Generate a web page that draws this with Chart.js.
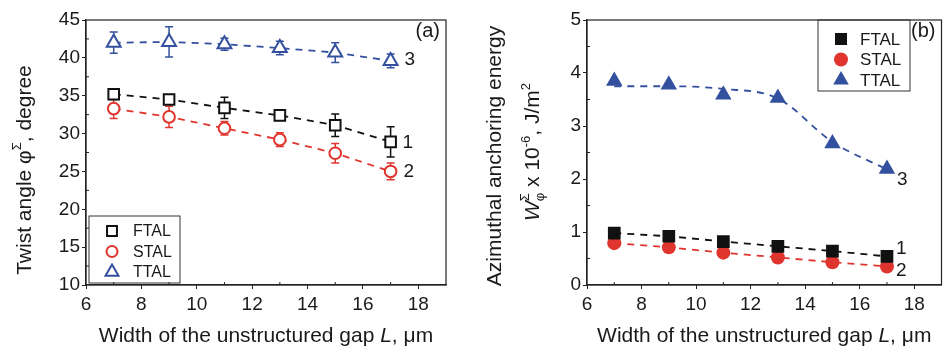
<!DOCTYPE html>
<html>
<head>
<meta charset="utf-8">
<script src="https://cdn.jsdelivr.net/npm/chart.js@4/dist/chart.umd.min.js"></script>
<style>
  html, body { margin: 0; padding: 0; background: #fff; }
  #wrap { position: relative; width: 951px; height: 349px; }
  #chartA { position: absolute; left: 0; top: 0; }
  #chartB { position: absolute; left: 475px; top: 0; }
</style>
</head>
<body>
<div id="wrap">
  <canvas id="chartA" width="475" height="349"></canvas>
  <canvas id="chartB" width="476" height="349"></canvas>
</div>
<script>
// gap width L, um
const gapWidth = [7, 9, 11, 13, 15, 17];
const xTicks = [6, 8, 10, 12, 14, 16, 18];
const xMinor = [7, 9, 11, 13, 15, 17];

// (a) twist angle, degree
const twistFTAL = [35.2, 34.5, 33.4, 32.4, 31.1, 28.9];
const twistFTALErr = [0.7, 0.6, 1.4, 0.6, 1.5, 2.0];
const twistSTAL = [33.3, 32.2, 30.7, 29.2, 27.4, 25.0];
const twistSTALErr = [1.3, 1.4, 0.9, 0.9, 1.3, 1.1];
const twistTTAL = [42.0, 42.1, 41.8, 41.3, 40.7, 39.6];
const twistTTALErr = [1.4, 2.0, 0.8, 0.9, 1.3, 0.9];
const yTicksA = [10, 15, 20, 25, 30, 35, 40, 45];
const yMinorA = [12.5, 17.5, 22.5, 27.5, 32.5, 37.5, 42.5];

// (b) azimuthal anchoring energy, 1e-6 J/m^2
const energyFTAL = [0.98, 0.92, 0.82, 0.73, 0.64, 0.54];
const energySTAL = [0.79, 0.71, 0.61, 0.52, 0.43, 0.35];
const energyTTAL = [3.85, 3.78, 3.59, 3.53, 2.67, 2.19];
const energyTTALFit = [3.75, 3.75, 3.70, 3.52, 2.70, 2.18];
const yTicksB = [0, 1, 2, 3, 4, 5];
const yMinorB = [0.5, 1.5, 2.5, 3.5, 4.5];

const seriesNames = ["FTAL", "STAL", "TTAL"];
const BLACK = "#111111";
const RED = "#e0352f";
const BLUE = "#33509e";
const TEXT = "#1a1a1a";
const FONT = "'Liberation Sans', Arial, Helvetica, sans-serif";

const toPoints = (ys) => gapWidth.map((x, i) => ({ x: x, y: ys[i] }));

function drawMarker(ctx, style, x, y, r, stroke, fill, lw) {
  ctx.save();
  ctx.beginPath();
  if (style === "rect") {
    const s = r * Math.SQRT1_2;
    ctx.rect(x - s, y - s, 2 * s, 2 * s);
  } else if (style === "triangle") {
    let a = 0;
    ctx.moveTo(x + Math.sin(a) * r, y - Math.cos(a) * r);
    a += (2 * Math.PI) / 3;
    ctx.lineTo(x + Math.sin(a) * r, y - Math.cos(a) * r);
    a += (2 * Math.PI) / 3;
    ctx.lineTo(x + Math.sin(a) * r, y - Math.cos(a) * r);
    ctx.closePath();
  } else {
    ctx.arc(x, y, r, 0, Math.PI * 2);
  }
  ctx.fillStyle = fill;
  ctx.fill();
  if (lw > 0) {
    ctx.lineWidth = lw;
    ctx.strokeStyle = stroke;
    ctx.stroke();
  }
  ctx.restore();
}

// draws a run of text pieces (for super/subscripts) centred on cx
function drawRuns(ctx, runs, cx, cy, angle) {
  ctx.save();
  ctx.translate(cx, cy);
  ctx.rotate(angle);
  ctx.textBaseline = "alphabetic";
  ctx.textAlign = "left";
  ctx.fillStyle = TEXT;
  let total = 0;
  runs.forEach((r) => {
    ctx.font = r.font;
    r.w = ctx.measureText(r.t).width;
    if (!r.stack) total += r.w;
  });
  let x = -total / 2;
  runs.forEach((r) => {
    ctx.font = r.font;
    ctx.fillText(r.t, x, r.dy || 0);
    if (!r.stack) x += r.w;
  });
  ctx.restore();
}

function makeDecor(cfg) {
  return {
    id: "decor",
    beforeDatasetsDraw(chart) {
      if (!cfg.errors) return;
      const { ctx, scales } = chart;
      ctx.save();
      cfg.errors.forEach((err, k) => {
        const vals = cfg.errorValues[k];
        ctx.strokeStyle = cfg.errorColors[k];
        ctx.lineWidth = 1.5;
        gapWidth.forEach((gx, i) => {
          const px = scales.x.getPixelForValue(gx);
          const top = scales.y.getPixelForValue(vals[i] + err[i]);
          const bot = scales.y.getPixelForValue(vals[i] - err[i]);
          ctx.beginPath();
          ctx.moveTo(px, top);
          ctx.lineTo(px, bot);
          ctx.moveTo(px - 4, top);
          ctx.lineTo(px + 4, top);
          ctx.moveTo(px - 4, bot);
          ctx.lineTo(px + 4, bot);
          ctx.stroke();
        });
      });
      ctx.restore();
    },
    afterDraw(chart) {
      const { ctx, chartArea: a, scales } = chart;
      ctx.save();
      // frame
      ctx.strokeStyle = "#222";
      ctx.lineWidth = 1.2;
      ctx.strokeRect(a.left, a.top, a.right - a.left, a.bottom - a.top);
      // minor ticks, inward
      ctx.lineWidth = 1;
      ctx.beginPath();
      xMinor.forEach((v) => {
        const px = scales.x.getPixelForValue(v);
        ctx.moveTo(px, a.bottom);
        ctx.lineTo(px, a.bottom - 3);
      });
      cfg.yMinor.forEach((v) => {
        const py = scales.y.getPixelForValue(v);
        ctx.moveTo(a.left, py);
        ctx.lineTo(a.left + 3, py);
      });
      ctx.stroke();

      // legend
      const lg = cfg.legend;
      ctx.strokeStyle = "#333";
      ctx.lineWidth = 1;
      ctx.strokeRect(lg.x, lg.y, lg.w, lg.h);
      ctx.font = lg.size + "px " + FONT;
      ctx.textBaseline = "middle";
      ctx.textAlign = "left";
      seriesNames.forEach((name, i) => {
        const m = cfg.markers[i];
        const my = lg.y + lg.first + i * lg.step;
        drawMarker(ctx, m.style, lg.x + lg.mx, my, m.lr, m.color, m.fill, m.lw);
        ctx.fillStyle = TEXT;
        ctx.fillText(name, lg.x + lg.tx, my + 1);
      });

      // curve numbers next to last points
      ctx.font = "19px " + FONT;
      cfg.curveLabels.forEach((c) => {
        const px = scales.x.getPixelForValue(c.x) + c.dx;
        const py = scales.y.getPixelForValue(c.y) + c.dy;
        ctx.fillStyle = TEXT;
        ctx.fillText(c.t, px, py);
      });

      // panel letter
      ctx.font = "20px " + FONT;
      ctx.textAlign = "right";
      ctx.fillText(cfg.panel, a.right - 6, a.top + 11);

      // axis titles
      const reg = "21px " + FONT;
      const ital = "italic 21px " + FONT;
      const small = "13px " + FONT;
      drawRuns(ctx, [
        { t: "Width of the unstructured gap ", font: reg },
        { t: "L", font: ital },
        { t: ", \u03bcm", font: reg }
      ], (a.left + a.right) / 2, 342, 0);
      cfg.yTitles.forEach((line) => {
        drawRuns(ctx, line.runs(reg, ital, small), line.x, line.y, -Math.PI / 2);
      });
      ctx.restore();
    }
  };
}

function axisOptions(ticks, min, max, widthY) {
  return {
    x: {
      type: "linear",
      min: 6,
      max: 19,
      afterBuildTicks: (s) => { s.ticks = xTicks.map((v) => ({ value: v })); },
      afterFit: (s) => { s.height = 64; },
      grid: { drawOnChartArea: false, drawTicks: true, tickLength: 4, color: "#222" },
      border: { color: "#222", width: 1.2 },
      ticks: { font: { family: FONT, size: 19 }, color: TEXT, padding: 4, maxRotation: 0 }
    },
    y: {
      type: "linear",
      min: min,
      max: max,
      afterBuildTicks: (s) => { s.ticks = ticks.map((v) => ({ value: v })); },
      afterFit: (s) => { s.width = widthY; },
      grid: { drawOnChartArea: false, drawTicks: true, tickLength: 4, color: "#222" },
      border: { color: "#222", width: 1.2 },
      ticks: { font: { family: FONT, size: 19 }, color: TEXT, padding: 2 }
    }
  };
}

const lineBase = { showLine: true, borderDash: [7, 6], borderWidth: 1.8, tension: 0 };

// ---------- panel (a) ----------
new Chart(document.getElementById("chartA"), {
  type: "scatter",
  data: {
    datasets: [
      Object.assign({}, lineBase, {
        label: "FTAL", data: toPoints(twistFTAL), borderColor: BLACK,
        pointStyle: "rect", pointRadius: 7.5, pointBorderWidth: 2,
        pointBorderColor: BLACK, pointBackgroundColor: "#fff"
      }),
      Object.assign({}, lineBase, {
        label: "STAL", data: toPoints(twistSTAL), borderColor: RED,
        pointStyle: "circle", pointRadius: 5.8, pointBorderWidth: 2,
        pointBorderColor: RED, pointBackgroundColor: "#fff"
      }),
      Object.assign({}, lineBase, {
        label: "TTAL", data: toPoints(twistTTAL), borderColor: BLUE,
        pointStyle: "triangle", pointRadius: 8, pointBorderWidth: 2,
        pointBorderColor: BLUE, pointBackgroundColor: "#fff"
      })
    ]
  },
  options: {
    responsive: false,
    animation: false,
    layout: { padding: { left: 0, top: 20, right: 29, bottom: 0 } },
    plugins: { legend: { display: false }, tooltip: { enabled: false } },
    scales: axisOptions(yTicksA, 10, 45, 86)
  },
  plugins: [makeDecor({
    panel: "(a)",
    yMinor: yMinorA,
    errors: [twistFTALErr, twistSTALErr, twistTTALErr],
    errorValues: [twistFTAL, twistSTAL, twistTTAL],
    errorColors: [BLACK, RED, BLUE],
    markers: [
      { style: "rect", lr: 7, color: BLACK, fill: "#fff", lw: 2 },
      { style: "circle", lr: 5.5, color: RED, fill: "#fff", lw: 2 },
      { style: "triangle", lr: 7.5, color: BLUE, fill: "#fff", lw: 2 }
    ],
    legend: { x: 89, y: 216, w: 91, h: 67, first: 15, step: 20.5, mx: 23, tx: 44, size: 16 },
    curveLabels: [
      { t: "1", x: 17, y: twistFTAL[5], dx: 12, dy: 1 },
      { t: "2", x: 17, y: twistSTAL[5], dx: 13, dy: 0 },
      { t: "3", x: 17, y: twistTTAL[5], dx: 14, dy: -1 }
    ],
    yTitles: [
      {
        x: 31, y: 170,
        runs: (reg, ital, small) => [
          { t: "Twist angle \u03c6", font: reg },
          { t: "\u03a3", font: small, dy: -10 },
          { t: ", degree", font: reg }
        ]
      }
    ]
  })]
});

// ---------- panel (b) ----------
new Chart(document.getElementById("chartB"), {
  type: "scatter",
  data: {
    datasets: [
      Object.assign({}, lineBase, {
        label: "FTAL", data: toPoints(energyFTAL), borderColor: BLACK,
        pointStyle: "rect", pointRadius: 9, pointBorderWidth: 0,
        pointBackgroundColor: BLACK
      }),
      Object.assign({}, lineBase, {
        label: "STAL", data: toPoints(energySTAL), borderColor: RED,
        pointStyle: "circle", pointRadius: 7, pointBorderWidth: 0,
        pointBackgroundColor: RED
      }),
      {
        label: "TTAL fit", data: toPoints(energyTTALFit), showLine: true,
        borderColor: BLUE, borderDash: [7, 6], borderWidth: 1.8,
        cubicInterpolationMode: "monotone", pointRadius: 0
      },
      {
        label: "TTAL", data: toPoints(energyTTAL), showLine: false,
        pointStyle: "triangle", pointRadius: 9.5, pointBorderWidth: 0,
        pointBackgroundColor: BLUE
      }
    ]
  },
  options: {
    responsive: false,
    animation: false,
    layout: { padding: { left: 0, top: 20, right: 3, bottom: 0 } },
    plugins: { legend: { display: false }, tooltip: { enabled: false } },
    scales: axisOptions(yTicksB, 0, 5, 112)
  },
  plugins: [makeDecor({
    panel: "(b)",
    yMinor: yMinorB,
    markers: [
      { style: "rect", lr: 8.5, color: BLACK, fill: BLACK, lw: 0 },
      { style: "circle", lr: 7, color: RED, fill: RED, lw: 0 },
      { style: "triangle", lr: 9, color: BLUE, fill: BLUE, lw: 0 }
    ],
    legend: { x: 343, y: 20, w: 92, h: 71, first: 19, step: 20.5, mx: 23, tx: 42, size: 17 },
    curveLabels: [
      { t: "1", x: 17, y: energyFTAL[5], dx: 9, dy: -8 },
      { t: "2", x: 17, y: energySTAL[5], dx: 9, dy: 4 },
      { t: "3", x: 17, y: energyTTAL[5], dx: 10, dy: 11 }
    ],
    yTitles: [
      {
        x: 26, y: 156,
        runs: (reg) => [{ t: "Azimuthal anchoring energy", font: reg }]
      },
      {
        x: 64, y: 152,
        runs: (reg, ital, small) => [
          { t: "W", font: ital },
          { t: "\u03a3", font: small, dy: -10, stack: true },
          { t: "\u03c6", font: small, dy: 5 },
          { t: " x 10", font: reg },
          { t: "-6", font: small, dy: -9 },
          { t: ", J/m", font: reg },
          { t: "2", font: small, dy: -9 }
        ]
      }
    ]
  })]
});
</script>
</body>
</html>
